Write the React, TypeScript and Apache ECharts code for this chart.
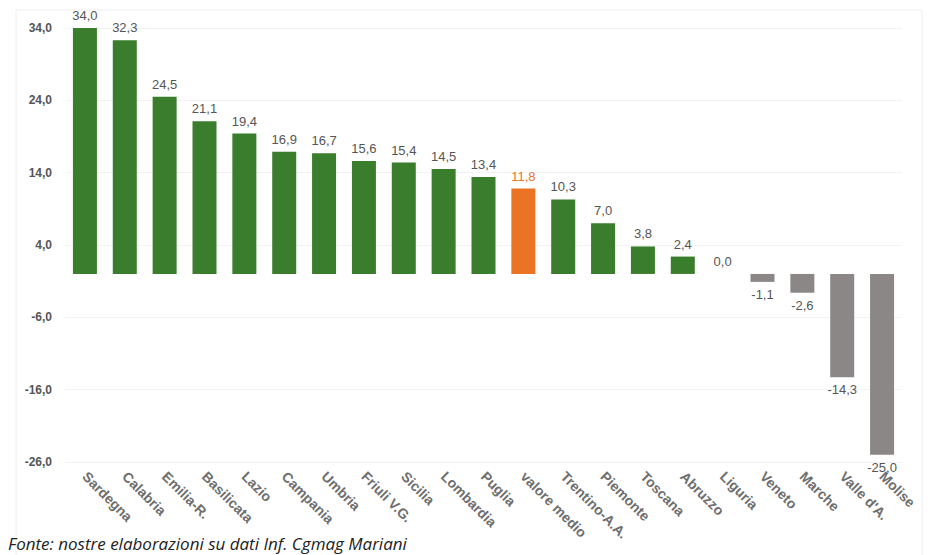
import React, { useEffect, useRef } from "react";
import * as echarts from "echarts";

const categories = [
  "Sardegna", "Calabria", "Emilia-R.", "Basilicata", "Lazio", "Campania", "Umbria",
  "Friuli V.G.", "Sicilia", "Lombardia", "Puglia", "valore medio", "Trentino-A.A.",
  "Piemonte", "Toscana", "Abruzzo", "Liguria", "Veneto", "Marche", "Valle d'A.", "Molise",
];
const values = [
  34.0, 32.3, 24.5, 21.1, 19.4, 16.9, 16.7, 15.6, 15.4, 14.5, 13.4, 11.8, 10.3,
  7.0, 3.8, 2.4, 0.0, -1.1, -2.6, -14.3, -25.0,
];
const highlight = "valore medio";
const footer = "Fonte: nostre elaborazioni su dati Inf. Cgmag Mariani";

const GREEN = "#3a7d2c";
const ORANGE = "#ea7324";
const GRAY = "#8b8787";

const fmt = (v: number) => v.toFixed(1).replace(".", ",");

export default function App() {
  const ref = useRef<HTMLDivElement>(null);
  useEffect(() => {
    if (!ref.current) return;
    const chart = echarts.init(ref.current, undefined, { renderer: "svg" });
    const data = values.map((v, i) => {
      const isH = categories[i] === highlight;
      const color = isH ? ORANGE : v >= 0 ? GREEN : GRAY;
      return {
        value: v,
        itemStyle: { color },
        label: {
          position: v >= 0 ? "top" : "bottom",
          color: isH ? ORANGE : "#555",
        },
      };
    });
    chart.setOption({
      animation: false,
      backgroundColor: "#fff",
      textStyle: { fontFamily: "Liberation Sans, Arial, sans-serif" },
      grid: { left: 65, right: 28, top: 28, bottom: 93 },
      xAxis: {
        type: "category",
        data: categories,
        axisLine: { show: false },
        axisTick: { show: false },
        axisLabel: {
          rotate: -45,
          interval: 0,
          color: "#6e6e6e",
          fontSize: 14,
          fontWeight: "bold",
          margin: 12,
        },
      },
      yAxis: {
        type: "value",
        min: -26,
        max: 34,
        interval: 10,
        axisLine: { show: false },
        axisTick: { show: false },
        splitLine: { show: true, lineStyle: { color: "#f2f2f2", width: 1 } },
        axisLabel: {
          color: "#555",
          fontSize: 12,
          fontWeight: "bold",
          margin: 13,
          formatter: (v: number) => fmt(v),
        },
      },
      series: [
        {
          type: "bar",
          data,
          barWidth: 24,
          label: {
            show: true,
            fontSize: 13,
            distance: 6,
            formatter: (p: any) => fmt(p.value),
          },
        },
      ],
      graphic: [
        {
          type: "rect",
          shape: { x: 16, y: 10, width: 906, height: 560 },
          style: { fill: "none", stroke: "#eeeeee", lineWidth: 1 },
          silent: true,
          z: -1,
        },
        {
          type: "text",
          left: 8,
          top: 535,
          style: {
            text: footer,
            fill: "#222",
            font: "italic 17px 'Open Sans', sans-serif",
          },
        },
      ],
    });
    return () => chart.dispose();
  }, []);
  return <div ref={ref} style={{ width: 930, height: 555, position: "fixed", left: 0, top: 0 }} />;
}
